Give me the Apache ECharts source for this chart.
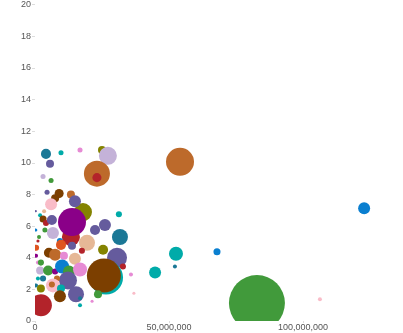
<!DOCTYPE html>
<html>
<head>
<meta charset="utf-8">
<script src="https://cdn.jsdelivr.net/npm/echarts@6/dist/echarts.min.js"></script>
<style>
html,body{margin:0;padding:0;background:#fff;}
#chart{width:403px;height:333px;}
</style>
</head>
<body>
<div id="chart"></div>
<script>
// Data (x in absolute units, y value, bubble size value, colour group)
var xTickLabels = ['0', '50,000,000', '100,000,000'];
var yTickLabels = ['0','2','4','6','8','10','12','14','16','18','20'];
var groupNames = ['teal','cyan','magenta','olive','lavender','slate','orangeBrown','red','green','darkBrown','pink','purple','peach','blue','orangeRed'];
var palette = ['#1b7896','#00aba9','#e68bd4','#848300','#c4b2d8','#655b9d','#bd6a2b','#b3232a','#419a3b','#7c3f00','#f9bcc8','#8a0088','#e6b896','#0a7fd0','#df5520'];

var xValues = [
  4.1e6, 9.7e6, 16.8e6, 25.0e6, 27.2e6, 5.6e6, 23.1e6, 23.1e6, 3.0e6, 6.0e6,
  4.5e6, 9.0e6, 7.5e6, 13.4e6, 6.0e6, 17.9e6, 14.9e6, 31.3e6, 0.3e6, 3.4e6,
  1.9e6, 3.0e6, 4.1e6, 6.3e6, 13.4e6, 13.8e6, 6.7e6, 3.7e6, 0.3e6, 22.4e6,
  26.1e6, 31.7e6, 19.4e6, 1.5e6, 1.1e6, 9.3e6, 13.8e6, 17.5e6, 25.4e6, 9.7e6,
  0.4e6, 5.2e6, 7.5e6, 10.8e6, 14.9e6, 30.6e6, 32.8e6, 0.4e6, 1.1e6, 2.2e6,
  1.9e6, 4.9e6, 7.5e6, 10.1e6, 12.7e6, 16.8e6, 26.5e6, 25.7e6, 35.8e6, 12.3e6,
  8.2e6, 6.7e6, 6.3e6, 3.0e6, 1.1e6, 0.4e6, 2.2e6, 9.7e6, 9.3e6, 15.3e6,
  16.8e6, 16.8e6, 23.5e6, 21.3e6, 36.9e6, 2.2e6, 54.1e6, 52.6e6, 52.2e6, 67.9e6,
  44.8e6, 82.8e6, 122.8e6, 106.3e6
];
var yValues = [
  10.56, 10.63, 10.81, 10.81, 10.44, 9.94, 9.31, 9.06, 9.13, 8.88,
  8.13, 8.06, 7.75, 8.00, 7.38, 6.88, 7.56, 6.75, 6.94, 6.94,
  6.69, 6.44, 6.19, 6.38, 5.31, 6.25, 5.56, 5.75, 5.75, 5.75,
  6.06, 5.31, 4.94, 5.31, 5.06, 5.06, 4.75, 4.44, 4.50, 4.81,
  4.63, 4.31, 4.19, 4.13, 3.94, 4.00, 3.44, 4.13, 3.69, 3.69,
  3.19, 3.19, 3.13, 3.44, 3.13, 3.25, 2.75, 2.88, 2.94, 2.56,
  2.69, 2.25, 2.31, 2.69, 2.69, 2.25, 2.06, 2.06, 1.56, 1.69,
  1.44, 1.00, 1.69, 1.25, 1.75, 1.00, 10.06, 4.25, 3.44, 4.38,
  3.06, 1.13, 7.13, 1.38
];
var sizeValues = [
  6.3, 1.6, 1.6, 4.0, 20.3, 4.0, 42.3, 5.1, 1.6, 1.6,
  1.6, 5.1, 4.0, 4.0, 9.0, 20.3, 9.0, 2.3, 0.3, 1.0,
  1.0, 3.1, 2.3, 6.3, 20.3, 49.0, 9.0, 1.6, 0.6, 6.3,
  9.0, 16.0, 16.0, 1.0, 0.6, 2.3, 4.0, 2.3, 6.3, 6.3,
  2.3, 6.3, 9.0, 4.0, 9.0, 25.0, 2.3, 1.0, 1.0, 2.3,
  4.0, 6.3, 2.3, 12.3, 9.0, 12.3, 72.3, 72.3, 1.0, 20.3,
  2.3, 12.3, 2.3, 2.3, 1.0, 1.0, 4.0, 4.0, 9.0, 16.0,
  1.0, 1.0, 4.0, 0.6, 0.6, 30.3, 49.0, 12.3, 1.0, 3.1,
  9.0, 196.0, 9.0, 1.0
];
var groupIndex = [
  0, 1, 2, 3, 4, 5, 6, 7, 4, 8,
  5, 9, 9, 6, 10, 3, 5, 1, 5, 12,
  1, 9, 7, 5, 7, 11, 4, 8, 13, 5,
  5, 0, 12, 8, 7, 13, 5, 7, 3, 14,
  14, 9, 6, 2, 12, 5, 7, 11, 2, 8,
  4, 8, 11, 13, 8, 2, 1, 9, 2, 5,
  6, 10, 6, 0, 1, 0, 3, 1, 9, 5,
  0, 1, 8, 2, 10, 7, 6, 1, 0, 13,
  1, 8, 13, 10
];

var data = xValues.map(function (x, i) {
  return [x, yValues[i], sizeValues[i], groupIndex[i]];
});

var chart = echarts.init(document.getElementById('chart'), null, {renderer: 'canvas'});
var fontFamily = '"Liberation Sans", Arial, sans-serif';
chart.setOption({
  animation: false,
  backgroundColor: '#ffffff',
  grid: {left: 35, top: 1.5, right: 0, bottom: 12, containLabel: false},
  xAxis: {
    type: 'value', min: 0, max: 137300000, interval: 50000000,
    axisLine: {show: false},
    axisTick: {show: true, length: 2, lineStyle: {color: '#dddddd'}},
    splitLine: {show: false},
    axisLabel: {
      show: true, margin: 2, color: '#555555', fontSize: 9, fontFamily: fontFamily,
      showMaxLabel: false,
      formatter: function (v) {
        var i = Math.round(v / 50000000);
        return (Math.abs(v - i * 50000000) < 1 && xTickLabels[i]) ? xTickLabels[i] : '';
      }
    }
  },
  yAxis: {
    type: 'value', min: 0, max: 20, interval: 2,
    axisLine: {show: false},
    axisTick: {show: true, length: 3, lineStyle: {color: '#dddddd'}},
    splitLine: {show: false},
    axisLabel: {
      margin: 4, color: '#555555', fontSize: 9, fontFamily: fontFamily,
      formatter: function (v) { return yTickLabels[Math.round(v / 2)]; }
    }
  },
  series: [{
    type: 'custom',
    clip: true,
    encode: {x: 0, y: 1},
    data: data,
    renderItem: function (params, api) {
      var p = api.coord([api.value(0), api.value(1)]);
      var r = 2 * Math.sqrt(api.value(2));
      return {
        type: 'circle',
        shape: {cx: p[0], cy: p[1], r: r},
        style: {fill: palette[api.value(3)]}
      };
    }
  }]
});
</script>
</body>
</html>
